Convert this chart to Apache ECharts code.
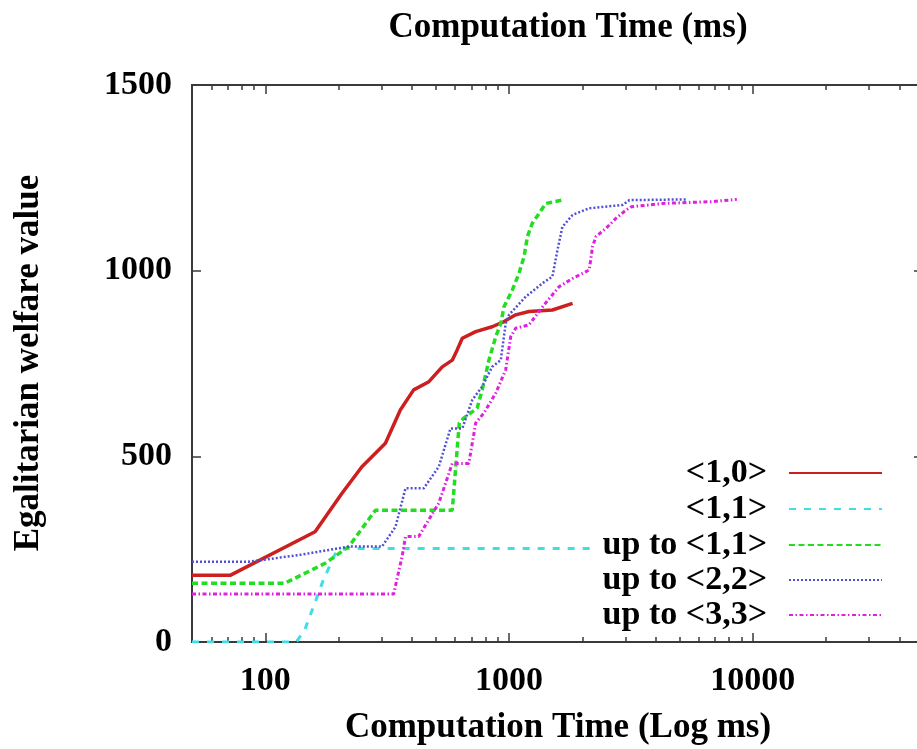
<!DOCTYPE html>
<html>
<head>
<meta charset="utf-8">
<script src="https://cdn.jsdelivr.net/npm/echarts@6/dist/echarts.min.js"></script>
<style>
html, body { margin: 0; padding: 0; background: #fff; overflow: hidden; }
#chart { width: 935px; height: 749px; }
</style>
</head>
<body>
<div id="chart"></div>
<script>
// ---- data (time in ms, egalitarian welfare value) ----
const seriesNames = ['<1,0>', '<1,1>', 'up to <1,1>', 'up to <2,2>', 'up to <3,3>'];
const data10 = [[50,180],[72,180],[160,297],[206,400],[249,472],[311,535],[358,625],[406,679],[469,701],[532,741],[585,759],[612,786],[643,818],[730,836],[853,849],[954,863],[1065,881],[1208,890],[1507,894],[1823,912]];
const data11 = [[50,0],[134,0],[145,32],[173,167],[194,239],[213,252],[2200,252]];
const dataUpTo11 = [[50,158],[120,158],[176,212],[220,257],[283,355],[585,355],[625,590],[650,602],[740,630],[776,679],[827,759],[882,822],[925,858],[954,903],[1032,948],[1099,993],[1153,1038],[1190,1092],[1247,1128],[1328,1154],[1415,1181],[1656,1190]];
const dataUpTo22 = [[50,216],[85,216],[137,234],[220,257],[301,257],[342,310],[376,414],[447,414],[515,472],[575,575],[643,575],[707,652],[776,688],[853,741],[925,759],[969,858],[1000,881],[1171,930],[1371,966],[1507,984],[1581,1056],[1656,1118],[1823,1150],[2134,1168],[2926,1177],[3119,1190],[5400,1192]];
const dataUpTo33 = [[50,129],[336,129],[364,230],[376,284],[426,284],[515,374],[585,481],[684,481],[730,590],[788,616],[882,670],[969,733],[1016,822],[1065,845],[1208,854],[1393,908],[1606,957],[1823,979],[2134,1002],[2203,1065],[2275,1092],[2500,1114],[2748,1141],[3020,1163],[3175,1172],[4290,1181],[6820,1186],[8610,1192]];
const xMajorTicks = [100, 1000, 10000];
const xMinorTicks = [60,70,80,90,200,300,400,500,600,700,800,900,2000,3000,4000,5000,6000,7000,8000,9000,20000,30000,40000];
const yTicks = [0, 500, 1000, 1500];
const xTitleTop = 'Computation Time (ms)';
const xTitleBottom = 'Computation Time (Log ms)';
const yTitle = 'Egalitarian welfare value';

// ---- chart ----
const FONT = '"Liberation Serif", "Times New Roman", serif';
const axisColor = '#3a3a3a';
const chart = echarts.init(document.getElementById('chart'));

function xAxisDef(position, tickValues, tickLen, showLabels) {
  return {
    type: 'log', logBase: 10, min: 50, max: 50000, position: position,
    axisLine: { show: true, onZero: false, lineStyle: { color: axisColor, width: 2 } },
    axisTick: { show: true, inside: true, length: tickLen, customValues: tickValues, lineStyle: { color: axisColor, width: 1.5 } },
    axisLabel: showLabels ? {
      show: true, customValues: xMajorTicks, margin: 22,
      formatter: v => String(Math.round(v)),
      fontFamily: FONT, fontWeight: 'bold', fontSize: 34, color: '#000'
    } : { show: false },
    splitLine: { show: false },
    minorTick: { show: false }
  };
}
function yAxisDef(position, showLabels) {
  return {
    type: 'value', min: 0, max: 1500, interval: 500, position: position,
    axisLine: { show: true, onZero: false, lineStyle: { color: axisColor, width: 2 } },
    axisTick: { show: true, inside: true, length: 9, customValues: yTicks, lineStyle: { color: axisColor, width: 1.5 } },
    axisLabel: showLabels ? {
      show: true, margin: 20, customValues: yTicks, formatter: v => String(v),
      fontFamily: FONT, fontWeight: 'bold', fontSize: 34, color: '#000'
    } : { show: false },
    splitLine: { show: false }
  };
}

const styles = [
  { color: '#cc2020', width: 3.5, type: 'solid' },
  { color: '#40dde6', width: 3, type: [7, 8] },
  { color: '#22dd22', width: 3.5, type: [6, 3.5] },
  { color: '#5050d4', width: 2.5, type: [2, 2] },
  { color: '#e020e0', width: 3, type: [4, 2.5, 1.5, 2.5] }
];
const datas = [data10, data11, dataUpTo11, dataUpTo22, dataUpTo33];

const series = seriesNames.map((n, i) => ({
  name: n, type: 'line', xAxisIndex: 0, yAxisIndex: 0,
  data: datas[i], symbol: 'none', showSymbol: false, smooth: false,
  color: styles[i].color,
  lineStyle: { color: styles[i].color, width: styles[i].width, type: styles[i].type },
  z: 2 + i
}));

const legendRows = [473, 509, 545, 580, 615];
const legends = seriesNames.map((n, i) => ({
  data: [n], orient: 'vertical', align: 'right', right: 52, top: legendRows[i] - 17,
  padding: 0, itemWidth: 93, itemHeight: 14,
  itemStyle: { opacity: 0 },
  selectedMode: false,
  textStyle: { fontFamily: FONT, fontWeight: 'bold', fontSize: 34, color: '#000', padding: [0, 17, 0, 0], lineHeight: 34 }
}));

chart.setOption({
  animation: false,
  backgroundColor: '#fff',
  grid: { left: 192, top: 85, right: 12, bottom: 107, containLabel: false },
  xAxis: [
    xAxisDef('bottom', xMajorTicks, 9, true),
    xAxisDef('bottom', xMinorTicks, 5, false),
    xAxisDef('top', xMajorTicks, 9, false),
    xAxisDef('top', xMinorTicks, 5, false)
  ],
  yAxis: [yAxisDef('left', true), yAxisDef('right', false)],
  legend: legends,
  series: series,
  graphic: [
    { type: 'text', x: 568, y: 28, style: { text: xTitleTop, font: 'bold 35px ' + FONT, fill: '#000', textAlign: 'center', textVerticalAlign: 'middle' } },
    { type: 'text', x: 558, y: 728, style: { text: xTitleBottom, font: 'bold 35px ' + FONT, fill: '#000', textAlign: 'center', textVerticalAlign: 'middle' } },
    { type: 'text', x: 29, y: 363, rotation: Math.PI / 2, style: { text: yTitle, font: 'bold 35px ' + FONT, fill: '#000', textAlign: 'center', textVerticalAlign: 'middle' } }
  ]
});
</script>
</body>
</html>
